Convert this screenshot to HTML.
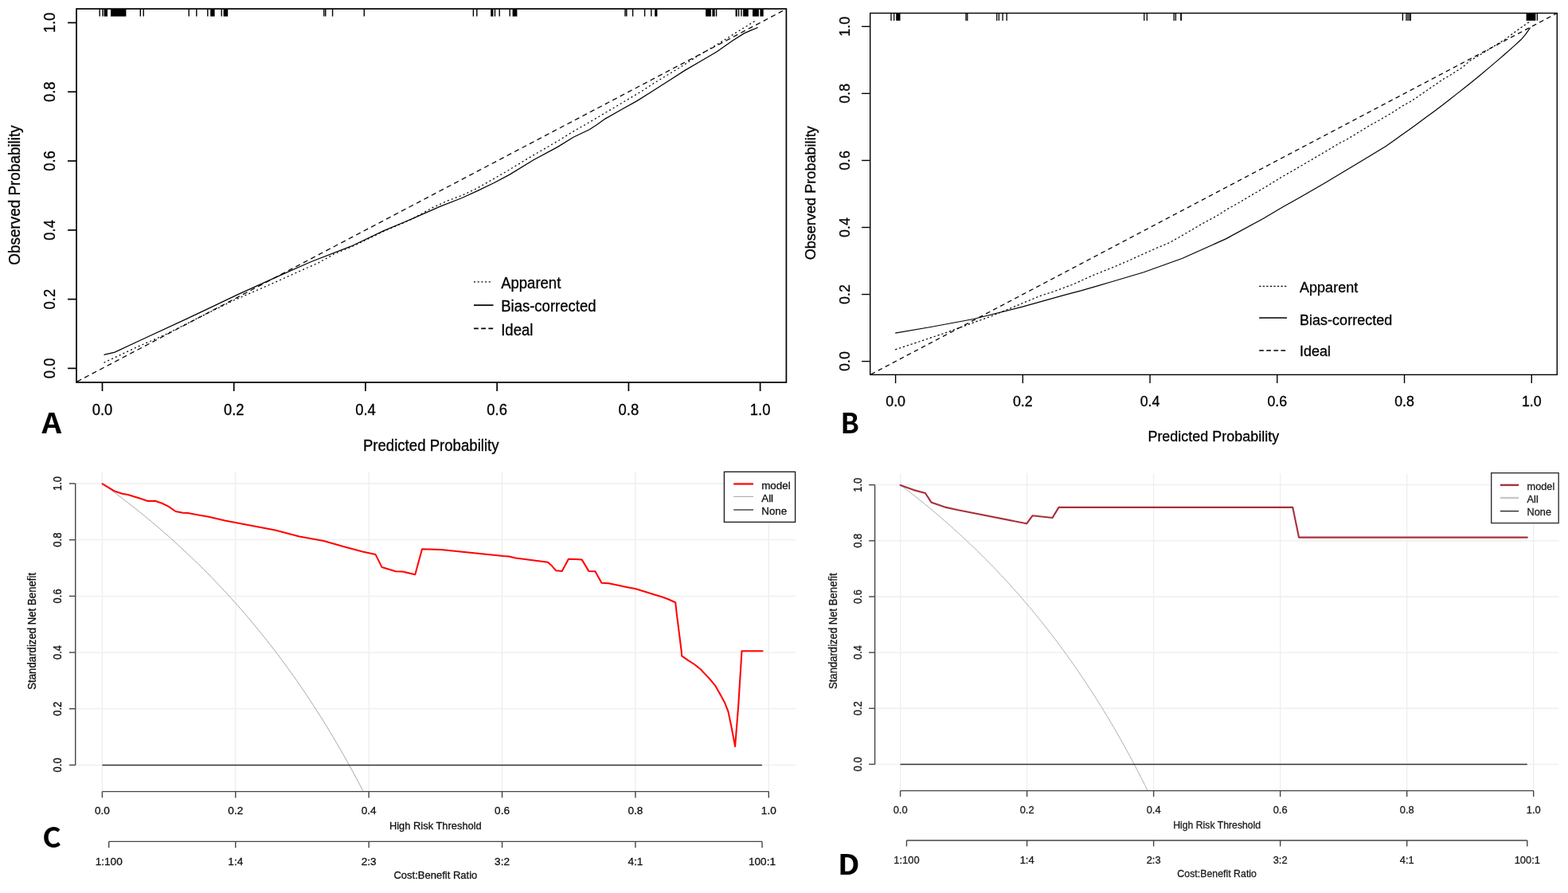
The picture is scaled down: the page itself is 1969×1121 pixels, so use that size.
<!DOCTYPE html>
<html><head><meta charset="utf-8"><title>Calibration and decision curves</title>
<style>html,body{margin:0;padding:0;background:#fff;width:1969px;height:1121px;overflow:hidden}svg{display:block}text{font-family:"Liberation Sans",Arial,sans-serif;stroke:currentColor;stroke-width:0.3px}</style>
</head><body>
<svg width="1969" height="1121" viewBox="0 0 1969 1121">
<rect x="0" y="0" width="1969" height="1121" fill="#fff"/>
<line x1="125.2" y1="11.1" x2="125.2" y2="20.6" stroke="#000" stroke-width="1.4"/>
<line x1="129" y1="11.1" x2="129" y2="20.6" stroke="#000" stroke-width="1.4"/>
<rect x="130.6" y="11.1" width="4.4" height="9.5" fill="#000"/>
<rect x="139" y="11.1" width="19.4" height="9.5" fill="#000"/>
<line x1="176.3" y1="11.1" x2="176.3" y2="20.6" stroke="#000" stroke-width="1.4"/>
<line x1="180.2" y1="11.1" x2="180.2" y2="20.6" stroke="#000" stroke-width="1.4"/>
<line x1="237.2" y1="11.1" x2="237.2" y2="20.6" stroke="#000" stroke-width="1.4"/>
<line x1="246.8" y1="11.1" x2="246.8" y2="20.6" stroke="#000" stroke-width="1.4"/>
<line x1="260.8" y1="11.1" x2="260.8" y2="20.6" stroke="#000" stroke-width="1.4"/>
<rect x="264.2" y="11.1" width="5.4" height="9.5" fill="#000"/>
<line x1="278.2" y1="11.1" x2="278.2" y2="20.6" stroke="#000" stroke-width="1.4"/>
<rect x="280.6" y="11.1" width="5.6" height="9.5" fill="#000"/>
<line x1="406.8" y1="11.1" x2="406.8" y2="20.6" stroke="#000" stroke-width="1.4"/>
<line x1="408.8" y1="11.1" x2="408.8" y2="20.6" stroke="#000" stroke-width="1.4"/>
<line x1="417.6" y1="11.1" x2="417.6" y2="20.6" stroke="#000" stroke-width="1.4"/>
<line x1="457.3" y1="11.1" x2="457.3" y2="20.6" stroke="#000" stroke-width="1.4"/>
<line x1="594.4" y1="11.1" x2="594.4" y2="20.6" stroke="#000" stroke-width="1.4"/>
<line x1="598.8" y1="11.1" x2="598.8" y2="20.6" stroke="#000" stroke-width="1.4"/>
<rect x="616.2" y="11.1" width="3.2" height="9.5" fill="#000"/>
<line x1="621.5" y1="11.1" x2="621.5" y2="20.6" stroke="#000" stroke-width="1.4"/>
<line x1="627.2" y1="11.1" x2="627.2" y2="20.6" stroke="#000" stroke-width="1.4"/>
<line x1="640.2" y1="11.1" x2="640.2" y2="20.6" stroke="#000" stroke-width="1.4"/>
<rect x="643.6" y="11.1" width="5.8" height="9.5" fill="#000"/>
<line x1="785" y1="11.1" x2="785" y2="20.6" stroke="#000" stroke-width="1.4"/>
<line x1="786.8" y1="11.1" x2="786.8" y2="20.6" stroke="#000" stroke-width="1.4"/>
<line x1="794.6" y1="11.1" x2="794.6" y2="20.6" stroke="#000" stroke-width="1.4"/>
<line x1="809.6" y1="11.1" x2="809.6" y2="20.6" stroke="#000" stroke-width="1.4"/>
<line x1="817.8" y1="11.1" x2="817.8" y2="20.6" stroke="#000" stroke-width="1.4"/>
<rect x="822.2" y="11.1" width="3.2" height="9.5" fill="#000"/>
<rect x="886.1" y="11.1" width="6.8" height="9.5" fill="#000"/>
<rect x="894.4" y="11.1" width="3.3" height="9.5" fill="#000"/>
<line x1="899.6" y1="11.1" x2="899.6" y2="20.6" stroke="#000" stroke-width="1.4"/>
<rect x="923.6" y="11.1" width="2.2" height="9.5" fill="#000"/>
<line x1="927.6" y1="11.1" x2="927.6" y2="20.6" stroke="#000" stroke-width="1.4"/>
<line x1="931" y1="11.1" x2="931" y2="20.6" stroke="#000" stroke-width="1.4"/>
<rect x="933.1" y="11.1" width="6.7" height="9.5" fill="#000"/>
<rect x="945" y="11.1" width="7.9" height="9.5" fill="#000"/>
<rect x="954.4" y="11.1" width="4.3" height="9.5" fill="#000"/>
<clipPath id="clipA"><rect x="96" y="11.1" width="891.4" height="468.9"/></clipPath>
<g clip-path="url(#clipA)" fill="none" stroke="#000" stroke-width="1.25">
<line x1="87.19" y1="484.09" x2="995.91" y2="6.81" stroke-dasharray="6.2 4.5"/>
<polyline points="130.5,455.2 172.4,435.5 208.4,419.6 250,398.5 293,377.3 339.2,357.1 374.9,341 400,329.9 420.5,318.4 440.8,310.2 481.4,290.6 517,275.2 542.4,261 562.7,251.8 580.5,245.1 598.2,236.8 615.6,226.9 638.9,213.5 670,194.7 702.1,176 721.1,164.3 739.9,153.6 757.5,143.1 771.5,134.9 790,123.9 807.9,113.2 821.1,104.4 839.3,93.5 856.9,82.8 873.5,72 906.8,51.9 920.1,43.6 933.9,35 943.3,29.2 948.5,26" stroke-dasharray="2 3.3"/>
<polyline points="130.5,445.3 144.2,442.1 176,427.2 234.1,400.4 298.3,369.9 349.7,346.6 389.6,329 440.8,309.2 481.4,289.9 517,274.9 552.2,259.4 580,248.5 600,239.4 620,229.8 640,219.1 670,200.7 700,184.6 720,172.3 740,162.7 750,156.2 760,149.1 780,137.8 800,126.6 820,114 840,101.2 860,88.4 880,76.7 900,65 920,51 933.9,42.1 942.8,38.1 951.8,34.5"/>
</g>
<rect x="96" y="11.1" width="891.4" height="468.9" fill="none" stroke="#000" stroke-width="1.7"/>
<line x1="128.5" y1="480" x2="128.5" y2="491" stroke="#000" stroke-width="1.7"/>
<line x1="85" y1="462.4" x2="96" y2="462.4" stroke="#000" stroke-width="1.7"/>
<line x1="293.72" y1="480" x2="293.72" y2="491" stroke="#000" stroke-width="1.7"/>
<line x1="85" y1="375.62" x2="96" y2="375.62" stroke="#000" stroke-width="1.7"/>
<line x1="458.94" y1="480" x2="458.94" y2="491" stroke="#000" stroke-width="1.7"/>
<line x1="85" y1="288.84" x2="96" y2="288.84" stroke="#000" stroke-width="1.7"/>
<line x1="624.16" y1="480" x2="624.16" y2="491" stroke="#000" stroke-width="1.7"/>
<line x1="85" y1="202.06" x2="96" y2="202.06" stroke="#000" stroke-width="1.7"/>
<line x1="789.38" y1="480" x2="789.38" y2="491" stroke="#000" stroke-width="1.7"/>
<line x1="85" y1="115.28" x2="96" y2="115.28" stroke="#000" stroke-width="1.7"/>
<line x1="954.6" y1="480" x2="954.6" y2="491" stroke="#000" stroke-width="1.7"/>
<line x1="85" y1="28.5" x2="96" y2="28.5" stroke="#000" stroke-width="1.7"/>
<text transform="translate(128.5,520.6) scale(0.945,1)" font-size="19.5" text-anchor="middle">0.0</text>
<text transform="translate(68.9,462.4) rotate(-90) scale(0.945,1)" font-size="19.5" text-anchor="middle">0.0</text>
<text transform="translate(293.72,520.6) scale(0.945,1)" font-size="19.5" text-anchor="middle">0.2</text>
<text transform="translate(68.9,375.62) rotate(-90) scale(0.945,1)" font-size="19.5" text-anchor="middle">0.2</text>
<text transform="translate(458.94,520.6) scale(0.945,1)" font-size="19.5" text-anchor="middle">0.4</text>
<text transform="translate(68.9,288.84) rotate(-90) scale(0.945,1)" font-size="19.5" text-anchor="middle">0.4</text>
<text transform="translate(624.16,520.6) scale(0.945,1)" font-size="19.5" text-anchor="middle">0.6</text>
<text transform="translate(68.9,202.06) rotate(-90) scale(0.945,1)" font-size="19.5" text-anchor="middle">0.6</text>
<text transform="translate(789.38,520.6) scale(0.945,1)" font-size="19.5" text-anchor="middle">0.8</text>
<text transform="translate(68.9,115.28) rotate(-90) scale(0.945,1)" font-size="19.5" text-anchor="middle">0.8</text>
<text transform="translate(954.6,520.6) scale(0.945,1)" font-size="19.5" text-anchor="middle">1.0</text>
<text transform="translate(68.9,28.5) rotate(-90) scale(0.945,1)" font-size="19.5" text-anchor="middle">1.0</text>
<text transform="translate(541.2,565.6) scale(0.955,1)" font-size="19.5" text-anchor="middle">Predicted Probability</text>
<text transform="translate(25.2,245) rotate(-90) scale(0.97,1)" font-size="19.5" text-anchor="middle">Observed Probability</text>
<line x1="595" y1="353.8" x2="617" y2="353.8" stroke="#000" stroke-width="1.25" stroke-dasharray="2 2.7"/>
<line x1="595" y1="383.1" x2="619.5" y2="383.1" stroke="#000" stroke-width="1.7"/>
<line x1="595" y1="412.3" x2="619.5" y2="412.3" stroke="#000" stroke-width="1.7" stroke-dasharray="5.8 3.4"/>
<text transform="translate(629.2,361.5) scale(0.945,1)" font-size="19.6">Apparent</text>
<text transform="translate(629.2,390.7) scale(0.945,1)" font-size="19.6">Bias-corrected</text>
<text transform="translate(629.2,420.9) scale(0.945,1)" font-size="19.6">Ideal</text>
<text transform="translate(52.5,543.6) scale(1.1,1)" font-size="35" style="font-family:'Noto Sans CJK SC','Liberation Sans',sans-serif;font-weight:700;stroke:none">A</text>
<line x1="1119" y1="16.5" x2="1119" y2="25.9" stroke="#000" stroke-width="1.3"/>
<line x1="1122.7" y1="16.5" x2="1122.7" y2="25.9" stroke="#000" stroke-width="1.3"/>
<rect x="1125.2" y="16.5" width="5.3" height="9.4" fill="#000"/>
<line x1="1213" y1="16.5" x2="1213" y2="25.9" stroke="#000" stroke-width="1.3"/>
<line x1="1214.8" y1="16.5" x2="1214.8" y2="25.9" stroke="#000" stroke-width="1.3"/>
<line x1="1251.8" y1="16.5" x2="1251.8" y2="25.9" stroke="#000" stroke-width="1.3"/>
<line x1="1254.4" y1="16.5" x2="1254.4" y2="25.9" stroke="#000" stroke-width="1.3"/>
<line x1="1259.1" y1="16.5" x2="1259.1" y2="25.9" stroke="#000" stroke-width="1.3"/>
<line x1="1264.2" y1="16.5" x2="1264.2" y2="25.9" stroke="#000" stroke-width="1.3"/>
<line x1="1436.8" y1="16.5" x2="1436.8" y2="25.9" stroke="#000" stroke-width="1.3"/>
<line x1="1440.3" y1="16.5" x2="1440.3" y2="25.9" stroke="#000" stroke-width="1.3"/>
<line x1="1474.2" y1="16.5" x2="1474.2" y2="25.9" stroke="#000" stroke-width="1.3"/>
<line x1="1476.4" y1="16.5" x2="1476.4" y2="25.9" stroke="#000" stroke-width="1.3"/>
<rect x="1482.2" y="16.5" width="1.8" height="9.4" fill="#000"/>
<line x1="1761.4" y1="16.5" x2="1761.4" y2="25.9" stroke="#000" stroke-width="1.3"/>
<line x1="1766" y1="16.5" x2="1766" y2="25.9" stroke="#000" stroke-width="1.3"/>
<line x1="1768" y1="16.5" x2="1768" y2="25.9" stroke="#000" stroke-width="1.3"/>
<line x1="1770" y1="16.5" x2="1770" y2="25.9" stroke="#000" stroke-width="1.3"/>
<line x1="1771.3" y1="16.5" x2="1771.3" y2="25.9" stroke="#000" stroke-width="1.3"/>
<rect x="1916.6" y="16.5" width="11.8" height="9.4" fill="#000"/>
<line x1="1930.4" y1="16.5" x2="1930.4" y2="25.9" stroke="#000" stroke-width="1.3"/>
<clipPath id="clipB"><rect x="1092.7" y="16.5" width="862.6" height="453.9"/></clipPath>
<g clip-path="url(#clipB)" fill="none" stroke="#000" stroke-width="1.2">
<line x1="1084.66" y1="474.62" x2="1963.24" y2="12.28" stroke-dasharray="5.8 4.4"/>
<polyline points="1124.2,438.9 1184.1,418.9 1245.4,396.7 1306.8,371.2 1322.5,366.2 1346.2,357.5 1371.8,345.9 1394.3,336.9 1416.1,327.8 1431.7,320.6 1450.7,312.1 1469.3,304.3 1489.3,292.8 1510.7,280.3 1528.5,270.7 1540.7,262.8 1554.3,255.3 1571,245.3 1592.5,232.8 1608.5,222.8 1622.8,214.6 1640,204.6 1661.4,192.1 1682.8,179.3 1691.4,175 1704.3,167.1 1721.4,156.7 1729.3,152.5 1746.4,142.5 1761.4,132.8 1770.7,127.8 1781.4,120.7 1790.7,114.2 1802.8,106 1810.7,100.3 1820,95 1827.8,90 1837.1,83.9 1845.7,76.4 1864.9,65 1889.9,49.4 1905.7,37.8 1913.5,32.1 1920.5,27.5" stroke-dasharray="2.3 2.8"/>
<polyline points="1124.2,418.2 1168.7,410.5 1222.4,400.5 1283.8,385.2 1337.5,370.2 1357.5,364.9 1380,358.3 1394.9,354 1436.2,341.8 1484.9,324.3 1539.3,299.9 1586.1,274.6 1611.4,259.6 1632.9,247.4 1662.8,230.3 1709.9,202.1 1740,183.8 1750,176.7 1760,169.6 1770,162.4 1780,155.2 1790,147.8 1800,140.4 1810,132.9 1820,125.2 1830,117.4 1840,109.5 1850,101.5 1860,93.3 1870,84.9 1880,76.4 1890,67.7 1900,58.9 1910,49.8 1915.7,43.2 1921.5,34.8"/>
</g>
<rect x="1092.7" y="16.5" width="862.6" height="453.9" fill="none" stroke="#000" stroke-width="1.4"/>
<line x1="1124.6" y1="470.4" x2="1124.6" y2="481.1" stroke="#000" stroke-width="1.4"/>
<line x1="1082" y1="453.6" x2="1092.7" y2="453.6" stroke="#000" stroke-width="1.4"/>
<line x1="1284.34" y1="470.4" x2="1284.34" y2="481.1" stroke="#000" stroke-width="1.4"/>
<line x1="1082" y1="369.54" x2="1092.7" y2="369.54" stroke="#000" stroke-width="1.4"/>
<line x1="1444.08" y1="470.4" x2="1444.08" y2="481.1" stroke="#000" stroke-width="1.4"/>
<line x1="1082" y1="285.48" x2="1092.7" y2="285.48" stroke="#000" stroke-width="1.4"/>
<line x1="1603.82" y1="470.4" x2="1603.82" y2="481.1" stroke="#000" stroke-width="1.4"/>
<line x1="1082" y1="201.42" x2="1092.7" y2="201.42" stroke="#000" stroke-width="1.4"/>
<line x1="1763.56" y1="470.4" x2="1763.56" y2="481.1" stroke="#000" stroke-width="1.4"/>
<line x1="1082" y1="117.36" x2="1092.7" y2="117.36" stroke="#000" stroke-width="1.4"/>
<line x1="1923.3" y1="470.4" x2="1923.3" y2="481.1" stroke="#000" stroke-width="1.4"/>
<line x1="1082" y1="33.3" x2="1092.7" y2="33.3" stroke="#000" stroke-width="1.4"/>
<text transform="translate(1124.6,509.8) scale(0.945,1)" font-size="18.9" text-anchor="middle">0.0</text>
<text transform="translate(1066.9,453.6) rotate(-90) scale(0.945,1)" font-size="18.9" text-anchor="middle">0.0</text>
<text transform="translate(1284.34,509.8) scale(0.945,1)" font-size="18.9" text-anchor="middle">0.2</text>
<text transform="translate(1066.9,369.54) rotate(-90) scale(0.945,1)" font-size="18.9" text-anchor="middle">0.2</text>
<text transform="translate(1444.08,509.8) scale(0.945,1)" font-size="18.9" text-anchor="middle">0.4</text>
<text transform="translate(1066.9,285.48) rotate(-90) scale(0.945,1)" font-size="18.9" text-anchor="middle">0.4</text>
<text transform="translate(1603.82,509.8) scale(0.945,1)" font-size="18.9" text-anchor="middle">0.6</text>
<text transform="translate(1066.9,201.42) rotate(-90) scale(0.945,1)" font-size="18.9" text-anchor="middle">0.6</text>
<text transform="translate(1763.56,509.8) scale(0.945,1)" font-size="18.9" text-anchor="middle">0.8</text>
<text transform="translate(1066.9,117.36) rotate(-90) scale(0.945,1)" font-size="18.9" text-anchor="middle">0.8</text>
<text transform="translate(1923.3,509.8) scale(0.945,1)" font-size="18.9" text-anchor="middle">1.0</text>
<text transform="translate(1066.9,33.3) rotate(-90) scale(0.945,1)" font-size="18.9" text-anchor="middle">1.0</text>
<text transform="translate(1523.8,553.7) scale(0.951,1)" font-size="18.9" text-anchor="middle">Predicted Probability</text>
<text transform="translate(1024.3,242.3) rotate(-90) scale(0.959,1)" font-size="18.9" text-anchor="middle">Observed Probability</text>
<line x1="1581.2" y1="359.4" x2="1615.5" y2="359.4" stroke="#000" stroke-width="1.2" stroke-dasharray="2.3 2.25"/>
<line x1="1581.2" y1="399.1" x2="1616.1" y2="399.1" stroke="#000" stroke-width="1.5"/>
<line x1="1581.2" y1="439.9" x2="1616.1" y2="439.9" stroke="#000" stroke-width="1.5" stroke-dasharray="5.7 3.4"/>
<text transform="translate(1632,366.8) scale(0.955,1)" font-size="18.9">Apparent</text>
<text transform="translate(1632,407.7) scale(0.955,1)" font-size="18.9">Bias-corrected</text>
<text transform="translate(1632,447.1) scale(0.955,1)" font-size="18.9">Ideal</text>
<text transform="translate(1055.4,544.3) scale(0.98,1)" font-size="35" style="font-family:'Noto Sans CJK SC','Liberation Sans',sans-serif;font-weight:700;stroke:none">B</text>
<line x1="128.4" y1="592" x2="128.4" y2="993.6" stroke="#eeeeee" stroke-width="1.3"/>
<line x1="94.7" y1="960.4" x2="998.8" y2="960.4" stroke="#eeeeee" stroke-width="1.3"/>
<line x1="295.78" y1="592" x2="295.78" y2="993.6" stroke="#eeeeee" stroke-width="1.3"/>
<line x1="94.7" y1="889.72" x2="998.8" y2="889.72" stroke="#eeeeee" stroke-width="1.3"/>
<line x1="463.16" y1="592" x2="463.16" y2="993.6" stroke="#eeeeee" stroke-width="1.3"/>
<line x1="94.7" y1="819.04" x2="998.8" y2="819.04" stroke="#eeeeee" stroke-width="1.3"/>
<line x1="630.54" y1="592" x2="630.54" y2="993.6" stroke="#eeeeee" stroke-width="1.3"/>
<line x1="94.7" y1="748.36" x2="998.8" y2="748.36" stroke="#eeeeee" stroke-width="1.3"/>
<line x1="797.92" y1="592" x2="797.92" y2="993.6" stroke="#eeeeee" stroke-width="1.3"/>
<line x1="94.7" y1="677.68" x2="998.8" y2="677.68" stroke="#eeeeee" stroke-width="1.3"/>
<line x1="965.3" y1="592" x2="965.3" y2="993.6" stroke="#eeeeee" stroke-width="1.3"/>
<line x1="94.7" y1="607" x2="998.8" y2="607" stroke="#eeeeee" stroke-width="1.3"/>
<clipPath id="clipC"><rect x="94.7" y="592" width="904.1" height="401.6"/></clipPath>
<g clip-path="url(#clipC)" fill="none">
<polyline points="128.4,607 132.54,609.99 136.69,613 140.83,616.05 144.97,619.13 149.11,622.24 153.26,625.38 157.4,628.55 161.54,631.76 165.68,635 169.83,638.27 173.97,641.58 178.11,644.92 182.25,648.3 186.4,651.71 190.54,655.16 194.68,658.65 198.83,662.17 202.97,665.73 207.11,669.33 211.25,672.98 215.4,676.66 219.54,680.38 223.68,684.14 227.82,687.95 231.97,691.8 236.11,695.69 240.25,699.63 244.39,703.61 248.54,707.64 252.68,711.72 256.82,715.84 260.96,720.01 265.11,724.23 269.25,728.5 273.39,732.83 277.54,737.2 281.68,741.63 285.82,746.11 289.96,750.65 294.11,755.24 298.25,759.89 302.39,764.6 306.53,769.36 310.68,774.19 314.82,779.08 318.96,784.03 323.1,789.05 327.25,794.13 331.39,799.27 335.53,804.49 339.68,809.77 343.82,815.13 347.96,820.55 352.1,826.05 356.25,831.63 360.39,837.28 364.53,843 368.67,848.81 372.82,854.7 376.96,860.67 381.1,866.73 385.24,872.87 389.39,879.11 393.53,885.43 397.67,891.84 401.82,898.35 405.96,904.95 410.1,911.66 414.24,918.46 418.39,925.37 422.53,932.38 426.67,939.5 430.81,946.73 434.96,954.08 439.1,961.54 443.24,969.12 447.38,976.82 451.53,984.64 455.67,992.59 459.81,1000.67 463.96,1008.88 468.1,1017.24 472.24,1025.73 476.38,1034.36" stroke="#a6a6a6" stroke-width="1"/>
<line x1="128.4" y1="960.4" x2="956.93" y2="960.4" stroke="#333" stroke-width="1.5"/>
<polyline points="128.6,607.4 144.4,616.8 153.5,619.7 160.6,620.9 176.9,626 185.5,629 194.7,628.8 203.3,631.8 211.4,635.6 220.6,642 229.7,643.8 235.8,644 262.2,648.8 282.5,653.4 310,658.8 345.6,665.4 376,673.5 406.5,679.1 431.9,686.2 455.3,692.6 471.5,695.9 479.6,712.1 496.9,717.2 505.1,717.4 521.3,721.2 530,689.2 538.1,689.5 553.8,690 632,698.1 639.2,698.4 647.3,700.6 687.9,705.7 693,710.3 698.1,716.2 705.7,716.9 713.9,701.7 722.5,702 730.6,702.4 739.3,716.9 747.4,717.2 755.5,731.8 764.1,732.2 775.2,734.6 785.4,736.7 797.6,739 810.8,743.1 823.5,746.9 831.1,749.2 838.7,752 848.2,756.3 849.6,769 855.7,817.3 856.1,823.3 863.6,828.6 872,834 879.6,840 885.3,846.1 891.7,852.9 898.5,861.2 904.6,871.9 909.9,881.7 914.4,893.1 918.1,910.5 923.1,937 927.2,886.2 931.5,817.2 957.6,817.2" stroke="#ff0000" stroke-width="2.05" stroke-linejoin="round" stroke-linecap="round"/>
</g>
<line x1="94.7" y1="607" x2="94.7" y2="960.4" stroke="#444" stroke-width="1.4"/>
<line x1="86.9" y1="960.4" x2="94.7" y2="960.4" stroke="#444" stroke-width="1.4"/>
<text transform="translate(76.6,960.4) rotate(-90) scale(0.957,1.1)" font-size="13.6" text-anchor="middle" fill="#111" color="#111">0.0</text>
<line x1="86.9" y1="889.72" x2="94.7" y2="889.72" stroke="#444" stroke-width="1.4"/>
<text transform="translate(76.6,889.72) rotate(-90) scale(0.957,1.1)" font-size="13.6" text-anchor="middle" fill="#111" color="#111">0.2</text>
<line x1="86.9" y1="819.04" x2="94.7" y2="819.04" stroke="#444" stroke-width="1.4"/>
<text transform="translate(76.6,819.04) rotate(-90) scale(0.957,1.1)" font-size="13.6" text-anchor="middle" fill="#111" color="#111">0.4</text>
<line x1="86.9" y1="748.36" x2="94.7" y2="748.36" stroke="#444" stroke-width="1.4"/>
<text transform="translate(76.6,748.36) rotate(-90) scale(0.957,1.1)" font-size="13.6" text-anchor="middle" fill="#111" color="#111">0.6</text>
<line x1="86.9" y1="677.68" x2="94.7" y2="677.68" stroke="#444" stroke-width="1.4"/>
<text transform="translate(76.6,677.68) rotate(-90) scale(0.957,1.1)" font-size="13.6" text-anchor="middle" fill="#111" color="#111">0.8</text>
<line x1="86.9" y1="607" x2="94.7" y2="607" stroke="#444" stroke-width="1.4"/>
<text transform="translate(76.6,607) rotate(-90) scale(0.957,1.1)" font-size="13.6" text-anchor="middle" fill="#111" color="#111">1.0</text>
<line x1="128.4" y1="993.6" x2="965.3" y2="993.6" stroke="#444" stroke-width="1.4"/>
<line x1="128.4" y1="993.6" x2="128.4" y2="1001.4" stroke="#444" stroke-width="1.4"/>
<text transform="translate(128.4,1022.3)" font-size="13.6" text-anchor="middle" fill="#111" color="#111">0.0</text>
<line x1="295.78" y1="993.6" x2="295.78" y2="1001.4" stroke="#444" stroke-width="1.4"/>
<text transform="translate(295.78,1022.3)" font-size="13.6" text-anchor="middle" fill="#111" color="#111">0.2</text>
<line x1="463.16" y1="993.6" x2="463.16" y2="1001.4" stroke="#444" stroke-width="1.4"/>
<text transform="translate(463.16,1022.3)" font-size="13.6" text-anchor="middle" fill="#111" color="#111">0.4</text>
<line x1="630.54" y1="993.6" x2="630.54" y2="1001.4" stroke="#444" stroke-width="1.4"/>
<text transform="translate(630.54,1022.3)" font-size="13.6" text-anchor="middle" fill="#111" color="#111">0.6</text>
<line x1="797.92" y1="993.6" x2="797.92" y2="1001.4" stroke="#444" stroke-width="1.4"/>
<text transform="translate(797.92,1022.3)" font-size="13.6" text-anchor="middle" fill="#111" color="#111">0.8</text>
<line x1="965.3" y1="993.6" x2="965.3" y2="1001.4" stroke="#444" stroke-width="1.4"/>
<text transform="translate(965.3,1022.3)" font-size="13.6" text-anchor="middle" fill="#111" color="#111">1.0</text>
<text transform="translate(546.85,1041.3) scale(0.949,1)" font-size="13.6" text-anchor="middle" fill="#111" color="#111">High Risk Threshold</text>
<line x1="136.69" y1="1056.4" x2="957.01" y2="1056.4" stroke="#444" stroke-width="1.4"/>
<line x1="136.69" y1="1056.4" x2="136.69" y2="1064.2" stroke="#444" stroke-width="1.4"/>
<text transform="translate(136.69,1086)" font-size="13.6" text-anchor="middle" fill="#111" color="#111">1:100</text>
<line x1="295.78" y1="1056.4" x2="295.78" y2="1064.2" stroke="#444" stroke-width="1.4"/>
<text transform="translate(295.78,1086)" font-size="13.6" text-anchor="middle" fill="#111" color="#111">1:4</text>
<line x1="463.16" y1="1056.4" x2="463.16" y2="1064.2" stroke="#444" stroke-width="1.4"/>
<text transform="translate(463.16,1086)" font-size="13.6" text-anchor="middle" fill="#111" color="#111">2:3</text>
<line x1="630.54" y1="1056.4" x2="630.54" y2="1064.2" stroke="#444" stroke-width="1.4"/>
<text transform="translate(630.54,1086)" font-size="13.6" text-anchor="middle" fill="#111" color="#111">3:2</text>
<line x1="797.92" y1="1056.4" x2="797.92" y2="1064.2" stroke="#444" stroke-width="1.4"/>
<text transform="translate(797.92,1086)" font-size="13.6" text-anchor="middle" fill="#111" color="#111">4:1</text>
<line x1="957.01" y1="1056.4" x2="957.01" y2="1064.2" stroke="#444" stroke-width="1.4"/>
<text transform="translate(957.01,1086)" font-size="13.6" text-anchor="middle" fill="#111" color="#111">100:1</text>
<text transform="translate(546.85,1102.8) scale(0.958,1)" font-size="13.6" text-anchor="middle" fill="#111" color="#111">Cost:Benefit Ratio</text>
<text transform="translate(45.4,792.3) rotate(-90) scale(0.971,1.1)" font-size="13.6" text-anchor="middle" fill="#111" color="#111">Standardized Net Benefit</text>
<rect x="909.4" y="592.3" width="89.2" height="63.1" fill="#fff" stroke="#222" stroke-width="1.4"/>
<line x1="921.2" y1="607.5" x2="946" y2="607.5" stroke="#ff0000" stroke-width="2.2"/>
<line x1="921.2" y1="623.4" x2="946" y2="623.4" stroke="#aaa" stroke-width="1.1"/>
<line x1="921.2" y1="640" x2="946" y2="640" stroke="#555" stroke-width="1.6"/>
<text transform="translate(956.2,613.9) scale(0.986,1)" font-size="13.6" fill="#111" color="#111">model</text>
<text transform="translate(956.2,629.5) scale(0.986,1)" font-size="13.6" fill="#111" color="#111">All</text>
<text transform="translate(956.2,645.6) scale(0.986,1)" font-size="13.6" fill="#111" color="#111">None</text>
<text transform="translate(53.3,1064.4) scale(1.03,1)" font-size="35" style="font-family:'Noto Sans CJK SC','Liberation Sans',sans-serif;font-weight:700;stroke:none">C</text>
<line x1="1130.6" y1="594" x2="1130.6" y2="992.6" stroke="#eeeeee" stroke-width="1.3"/>
<line x1="1098.6" y1="959.4" x2="1957.6" y2="959.4" stroke="#eeeeee" stroke-width="1.3"/>
<line x1="1289.62" y1="594" x2="1289.62" y2="992.6" stroke="#eeeeee" stroke-width="1.3"/>
<line x1="1098.6" y1="889.26" x2="1957.6" y2="889.26" stroke="#eeeeee" stroke-width="1.3"/>
<line x1="1448.64" y1="594" x2="1448.64" y2="992.6" stroke="#eeeeee" stroke-width="1.3"/>
<line x1="1098.6" y1="819.12" x2="1957.6" y2="819.12" stroke="#eeeeee" stroke-width="1.3"/>
<line x1="1607.66" y1="594" x2="1607.66" y2="992.6" stroke="#eeeeee" stroke-width="1.3"/>
<line x1="1098.6" y1="748.98" x2="1957.6" y2="748.98" stroke="#eeeeee" stroke-width="1.3"/>
<line x1="1766.68" y1="594" x2="1766.68" y2="992.6" stroke="#eeeeee" stroke-width="1.3"/>
<line x1="1098.6" y1="678.84" x2="1957.6" y2="678.84" stroke="#eeeeee" stroke-width="1.3"/>
<line x1="1925.7" y1="594" x2="1925.7" y2="992.6" stroke="#eeeeee" stroke-width="1.3"/>
<line x1="1098.6" y1="608.7" x2="1957.6" y2="608.7" stroke="#eeeeee" stroke-width="1.3"/>
<clipPath id="clipD"><rect x="1098.6" y="594" width="859" height="398.6"/></clipPath>
<g clip-path="url(#clipD)" fill="none">
<polyline points="1130.6,608.7 1134.54,611.68 1138.47,614.69 1142.41,617.73 1146.34,620.8 1150.28,623.9 1154.21,627.03 1158.15,630.2 1162.09,633.4 1166.02,636.63 1169.96,639.89 1173.89,643.19 1177.83,646.52 1181.76,649.89 1185.7,653.3 1189.64,656.74 1193.57,660.22 1197.51,663.73 1201.44,667.28 1205.38,670.88 1209.31,674.51 1213.25,678.18 1217.19,681.89 1221.12,685.65 1225.06,689.45 1228.99,693.29 1232.93,697.17 1236.87,701.1 1240.8,705.07 1244.74,709.09 1248.67,713.15 1252.61,717.27 1256.54,721.43 1260.48,725.64 1264.42,729.9 1268.35,734.21 1272.29,738.57 1276.22,742.99 1280.16,747.46 1284.09,751.99 1288.03,756.57 1291.97,761.2 1295.9,765.9 1299.84,770.66 1303.77,775.47 1307.71,780.35 1311.64,785.29 1315.58,790.29 1319.52,795.36 1323.45,800.49 1327.39,805.69 1331.32,810.96 1335.26,816.3 1339.19,821.71 1343.13,827.2 1347.07,832.76 1351,838.4 1354.94,844.11 1358.87,849.9 1362.81,855.78 1366.74,861.73 1370.68,867.78 1374.62,873.9 1378.55,880.12 1382.49,886.43 1386.42,892.82 1390.36,899.32 1394.29,905.9 1398.23,912.59 1402.17,919.38 1406.1,926.27 1410.04,933.26 1413.97,940.37 1417.91,947.58 1421.85,954.9 1425.78,962.35 1429.72,969.9 1433.65,977.58 1437.59,985.39 1441.52,993.32 1445.46,1001.38 1449.4,1009.57 1453.33,1017.9 1457.27,1026.37 1461.2,1034.99" stroke="#adadad" stroke-width="1"/>
<line x1="1130.6" y1="959.4" x2="1917.75" y2="959.4" stroke="#333" stroke-width="1.5"/>
<polyline points="1130.6,609 1147.3,615.1 1161.9,619 1169.7,630.8 1186.5,636.6 1203.2,640.3 1289.2,657.3 1296.5,647.3 1321.6,650 1329.5,636.9 1623.3,636.9 1631.1,674.6 1917.8,674.6" stroke="#a8303c" stroke-width="2.15" stroke-linejoin="round" stroke-linecap="round"/>
</g>
<line x1="1098.6" y1="608.7" x2="1098.6" y2="959.4" stroke="#444" stroke-width="1.4"/>
<line x1="1091.1" y1="959.4" x2="1098.6" y2="959.4" stroke="#444" stroke-width="1.4"/>
<text transform="translate(1081.7,959.4) rotate(-90) scale(0.9503,1.045)" font-size="13.6" text-anchor="middle" fill="#1a1a1a" color="#1a1a1a">0.0</text>
<line x1="1091.1" y1="889.26" x2="1098.6" y2="889.26" stroke="#444" stroke-width="1.4"/>
<text transform="translate(1081.7,889.26) rotate(-90) scale(0.9503,1.045)" font-size="13.6" text-anchor="middle" fill="#1a1a1a" color="#1a1a1a">0.2</text>
<line x1="1091.1" y1="819.12" x2="1098.6" y2="819.12" stroke="#444" stroke-width="1.4"/>
<text transform="translate(1081.7,819.12) rotate(-90) scale(0.9503,1.045)" font-size="13.6" text-anchor="middle" fill="#1a1a1a" color="#1a1a1a">0.4</text>
<line x1="1091.1" y1="748.98" x2="1098.6" y2="748.98" stroke="#444" stroke-width="1.4"/>
<text transform="translate(1081.7,748.98) rotate(-90) scale(0.9503,1.045)" font-size="13.6" text-anchor="middle" fill="#1a1a1a" color="#1a1a1a">0.6</text>
<line x1="1091.1" y1="678.84" x2="1098.6" y2="678.84" stroke="#444" stroke-width="1.4"/>
<text transform="translate(1081.7,678.84) rotate(-90) scale(0.9503,1.045)" font-size="13.6" text-anchor="middle" fill="#1a1a1a" color="#1a1a1a">0.8</text>
<line x1="1091.1" y1="608.7" x2="1098.6" y2="608.7" stroke="#444" stroke-width="1.4"/>
<text transform="translate(1081.7,608.7) rotate(-90) scale(0.9503,1.045)" font-size="13.6" text-anchor="middle" fill="#1a1a1a" color="#1a1a1a">1.0</text>
<line x1="1130.6" y1="992.6" x2="1925.7" y2="992.6" stroke="#444" stroke-width="1.4"/>
<line x1="1130.6" y1="992.6" x2="1130.6" y2="1000.1" stroke="#444" stroke-width="1.4"/>
<text transform="translate(1130.6,1020.7) scale(0.95,0.993)" font-size="13.6" text-anchor="middle" fill="#1a1a1a" color="#1a1a1a">0.0</text>
<line x1="1289.62" y1="992.6" x2="1289.62" y2="1000.1" stroke="#444" stroke-width="1.4"/>
<text transform="translate(1289.62,1020.7) scale(0.95,0.993)" font-size="13.6" text-anchor="middle" fill="#1a1a1a" color="#1a1a1a">0.2</text>
<line x1="1448.64" y1="992.6" x2="1448.64" y2="1000.1" stroke="#444" stroke-width="1.4"/>
<text transform="translate(1448.64,1020.7) scale(0.95,0.993)" font-size="13.6" text-anchor="middle" fill="#1a1a1a" color="#1a1a1a">0.4</text>
<line x1="1607.66" y1="992.6" x2="1607.66" y2="1000.1" stroke="#444" stroke-width="1.4"/>
<text transform="translate(1607.66,1020.7) scale(0.95,0.993)" font-size="13.6" text-anchor="middle" fill="#1a1a1a" color="#1a1a1a">0.6</text>
<line x1="1766.68" y1="992.6" x2="1766.68" y2="1000.1" stroke="#444" stroke-width="1.4"/>
<text transform="translate(1766.68,1020.7) scale(0.95,0.993)" font-size="13.6" text-anchor="middle" fill="#1a1a1a" color="#1a1a1a">0.8</text>
<line x1="1925.7" y1="992.6" x2="1925.7" y2="1000.1" stroke="#444" stroke-width="1.4"/>
<text transform="translate(1925.7,1020.7) scale(0.95,0.993)" font-size="13.6" text-anchor="middle" fill="#1a1a1a" color="#1a1a1a">1.0</text>
<text transform="translate(1528.15,1039.7) scale(0.9015,0.993)" font-size="13.6" text-anchor="middle" fill="#1a1a1a" color="#1a1a1a">High Risk Threshold</text>
<line x1="1138.47" y1="1055" x2="1917.83" y2="1055" stroke="#444" stroke-width="1.4"/>
<line x1="1138.47" y1="1055" x2="1138.47" y2="1062.5" stroke="#444" stroke-width="1.4"/>
<text transform="translate(1138.47,1083.9) scale(0.95,0.993)" font-size="13.6" text-anchor="middle" fill="#1a1a1a" color="#1a1a1a">1:100</text>
<line x1="1289.62" y1="1055" x2="1289.62" y2="1062.5" stroke="#444" stroke-width="1.4"/>
<text transform="translate(1289.62,1083.9) scale(0.95,0.993)" font-size="13.6" text-anchor="middle" fill="#1a1a1a" color="#1a1a1a">1:4</text>
<line x1="1448.64" y1="1055" x2="1448.64" y2="1062.5" stroke="#444" stroke-width="1.4"/>
<text transform="translate(1448.64,1083.9) scale(0.95,0.993)" font-size="13.6" text-anchor="middle" fill="#1a1a1a" color="#1a1a1a">2:3</text>
<line x1="1607.66" y1="1055" x2="1607.66" y2="1062.5" stroke="#444" stroke-width="1.4"/>
<text transform="translate(1607.66,1083.9) scale(0.95,0.993)" font-size="13.6" text-anchor="middle" fill="#1a1a1a" color="#1a1a1a">3:2</text>
<line x1="1766.68" y1="1055" x2="1766.68" y2="1062.5" stroke="#444" stroke-width="1.4"/>
<text transform="translate(1766.68,1083.9) scale(0.95,0.993)" font-size="13.6" text-anchor="middle" fill="#1a1a1a" color="#1a1a1a">4:1</text>
<line x1="1917.83" y1="1055" x2="1917.83" y2="1062.5" stroke="#444" stroke-width="1.4"/>
<text transform="translate(1917.83,1083.9) scale(0.95,0.993)" font-size="13.6" text-anchor="middle" fill="#1a1a1a" color="#1a1a1a">100:1</text>
<text transform="translate(1528.15,1101.1) scale(0.9101,0.993)" font-size="13.6" text-anchor="middle" fill="#1a1a1a" color="#1a1a1a">Cost:Benefit Ratio</text>
<text transform="translate(1050.9,792.2) rotate(-90) scale(0.9642,1.045)" font-size="13.6" text-anchor="middle" fill="#1a1a1a" color="#1a1a1a">Standardized Net Benefit</text>
<rect x="1872.7" y="593.7" width="84.5" height="62.9" fill="#fff" stroke="#333" stroke-width="1.4"/>
<line x1="1883.9" y1="608.9" x2="1907.2" y2="608.9" stroke="#a8303c" stroke-width="2.4"/>
<line x1="1883.9" y1="625" x2="1907.2" y2="625" stroke="#c8c8c8" stroke-width="2.4"/>
<line x1="1883.9" y1="641.6" x2="1907.2" y2="641.6" stroke="#111" stroke-width="1.2"/>
<text transform="translate(1917.6,615.3) scale(0.9367,0.993)" font-size="13.6" fill="#1a1a1a" color="#1a1a1a">model</text>
<text transform="translate(1917.6,630.9) scale(0.9367,0.993)" font-size="13.6" fill="#1a1a1a" color="#1a1a1a">All</text>
<text transform="translate(1917.6,646.9) scale(0.9367,0.993)" font-size="13.6" fill="#1a1a1a" color="#1a1a1a">None</text>
<text transform="translate(1052,1097.8) scale(1.1,1)" font-size="35" style="font-family:'Noto Sans CJK SC','Liberation Sans',sans-serif;font-weight:700;stroke:none">D</text>
</svg></body></html>
